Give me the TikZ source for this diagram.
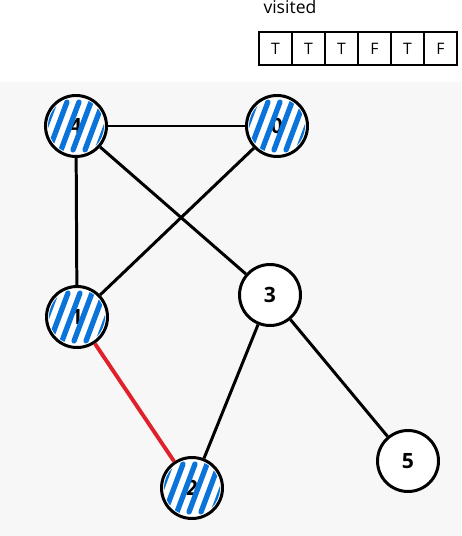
\documentclass[tikz,border=0pt]{standalone}
\usepackage{fontspec}
\setmainfont{Open Sans}
\definecolor{hatchblue}{HTML}{0A74DA}
\definecolor{edgered}{HTML}{E0202A}
\definecolor{bggray}{HTML}{F7F7F7}

\begin{document}
\begin{tikzpicture}[x=0.02cm,y=-0.02cm,line width=1.7pt,
  vertex/.style={circle,draw,fill=white,minimum size=1.22cm,inner sep=0pt,font=\large\bfseries},
  cell/.style={draw,line width=0.6pt,minimum width=0.66cm,minimum height=0.66cm,inner sep=0pt,font=\small},
  hatch/.style={hatchblue,line width=3pt,line cap=round}]
  \useasboundingbox (0,0) rectangle (461,536);
  % fondo
  \fill[bggray] (0,82) rectangle (461,536);
  % arreglo visited
  \node[anchor=west,inner sep=0pt] (lbl) at (262,7) {visited};
  \foreach \v [count=\i from 0] in {T,T,T,F,T,F}
    \node[cell] (c\i) at (275.5+33*\i,48.5) {\v};
  % vertices
  \node[vertex] (n4) at (76,126) {4};
  \node[vertex] (n0) at (277,126) {0};
  \node[vertex] (n1) at (77,317) {1};
  \node[vertex] (n3) at (270,295) {3};
  \node[vertex] (n2) at (192,488) {2};
  \node[vertex] (n5) at (408,461) {5};
  % aristas
  \draw (n4) -- (n0);
  \draw (n4) -- (n1);
  \draw (n4) -- (n3);
  \draw (n0) -- (n1);
  \draw (n3) -- (n2);
  \draw (n3) -- (n5);
  \draw[edgered,line width=2.2pt] (n1) -- (n2);
  % rayado de los visitados
  \foreach \n in {n4,n0,n1,n2} {
    \begin{scope}[shift={(\n.center)}]
      \clip (0,0) circle (0.56cm);
      \foreach \o in {-30,-18,...,30}
        \draw[hatch] (\o-9,24) -- (\o+9,-24);
    \end{scope}
  }
\end{tikzpicture}
\end{document}
